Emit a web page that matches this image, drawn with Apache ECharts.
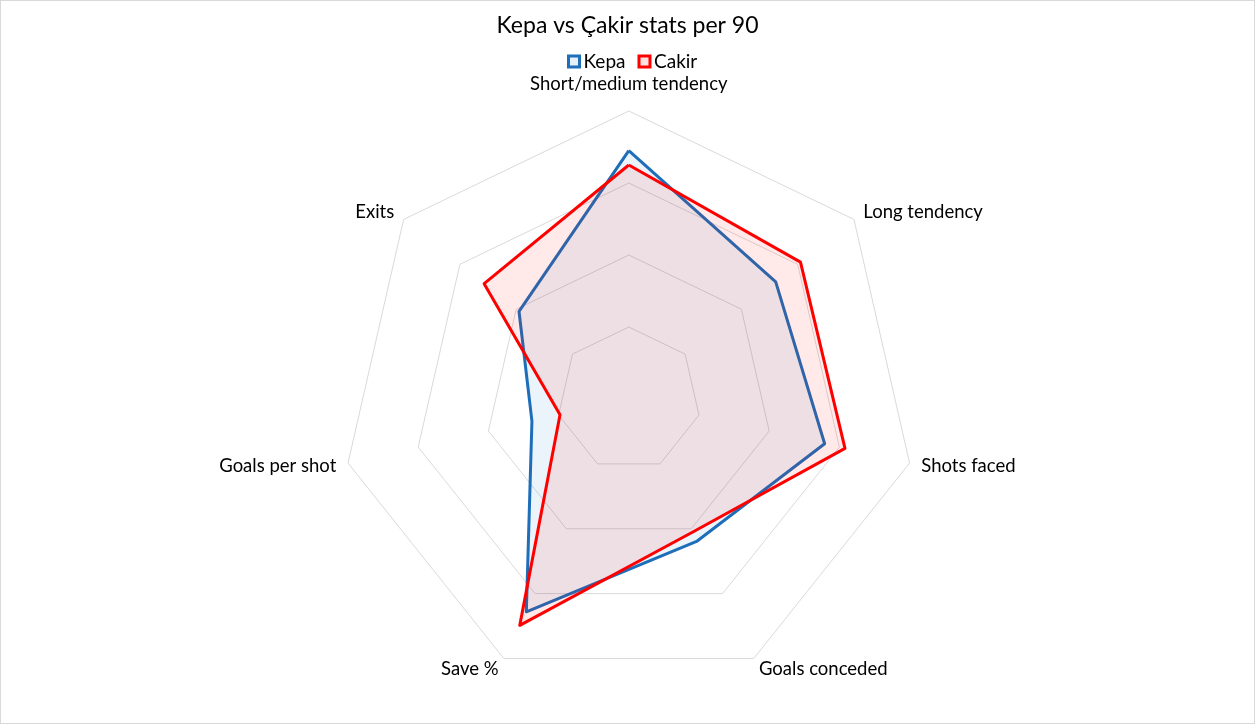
<!DOCTYPE html>
<html>
<head>
<meta charset="utf-8">
<title>Kepa vs Çakir stats per 90</title>
<script src="https://cdn.jsdelivr.net/npm/echarts@6/dist/echarts.min.js"></script>
<style>
  html, body { margin: 0; padding: 0; background: #fff; }
  #chart {
    width: 1253px;
    height: 722px;
    border: 1px solid #d9d9d9;
  }
</style>
</head>
<body>
<div id="chart"></div>
<script>
  // axes, clockwise from the top (same order for the values)
  const indicators = ['Short/medium tendency', 'Long tendency', 'Shots faced', 'Goals conceded', 'Save %', 'Goals per shot', 'Exits'];
  const kepa = [3.45, 2.61, 2.79, 2.19, 3.28, 1.38, 1.95];
  const cakir = [3.25, 3.05, 3.08, 2.05, 3.49, 0.98, 2.57];
  const axisMax = 4;

  // echarts lays radar axes out counter-clockwise, so flip the order after the first one
  const ccw = arr => [arr[0]].concat(arr.slice(1).reverse());

  const font = 'Lato, "Liberation Sans", sans-serif';

  const chart = echarts.init(document.getElementById('chart'));

  const option = {
    animation: false,
    title: {
      text: 'Kepa vs Çakir stats per 90',
      left: 'center',
      top: 8,
      textStyle: {
        color: '#000',
        fontFamily: font,
        fontSize: 23,
        fontWeight: 'normal'
      }
    },
    legend: {
      data: ['Kepa', 'Cakir'],
      top: 46,
      left: 561,
      itemWidth: 11,
      itemHeight: 11,
      itemGap: 12,
      icon: 'rect',
      itemStyle: { borderWidth: 3 },
      textStyle: {
        color: '#000',
        fontFamily: font,
        fontSize: 19,
        padding: [0, 0, 0, -1]
      }
    },
    radar: {
      center: [627.8, 398],
      radius: 288,
      startAngle: 90,
      splitNumber: 4,
      shape: 'polygon',
      axisNameGap: 12,
      axisName: {
        color: '#000',
        fontFamily: font,
        fontSize: 18.5,
        formatter: name => name === indicators[0] ? '{top|' + name + '}' : name,
        rich: {
          top: { fontFamily: font, fontSize: 18.5, color: '#000', padding: [0, 0, 5, 0] }
        }
      },
      indicator: ccw(indicators).map(name => ({ name: name, min: 0, max: axisMax })),
      axisLine: { show: false },
      axisTick: { show: false },
      axisLabel: { show: false },
      splitArea: { show: false },
      splitLine: {
        lineStyle: { color: '#d9d9d9', width: 1 }
      }
    },
    series: [
      {
        type: 'radar',
        symbol: 'none',
        data: [
          {
            name: 'Kepa',
            value: ccw(kepa),
            lineStyle: { color: '#1f6eb9', width: 3 },
            itemStyle: { color: 'rgba(0,112,192,0.1)', borderColor: '#1f6eb9', borderWidth: 3 },
            areaStyle: { color: 'rgba(0,112,192,0.11)' }
          },
          {
            name: 'Cakir',
            value: ccw(cakir),
            lineStyle: { color: '#ff0000', width: 3 },
            itemStyle: { color: 'rgba(255,0,0,0.12)', borderColor: '#ff0000', borderWidth: 3 },
            areaStyle: { color: 'rgba(255,0,0,0.12)' }
          }
        ]
      }
    ]
  };

  chart.setOption(option);

  window.onresize = function () {
    chart.resize();
  };
</script>
</body>
</html>
